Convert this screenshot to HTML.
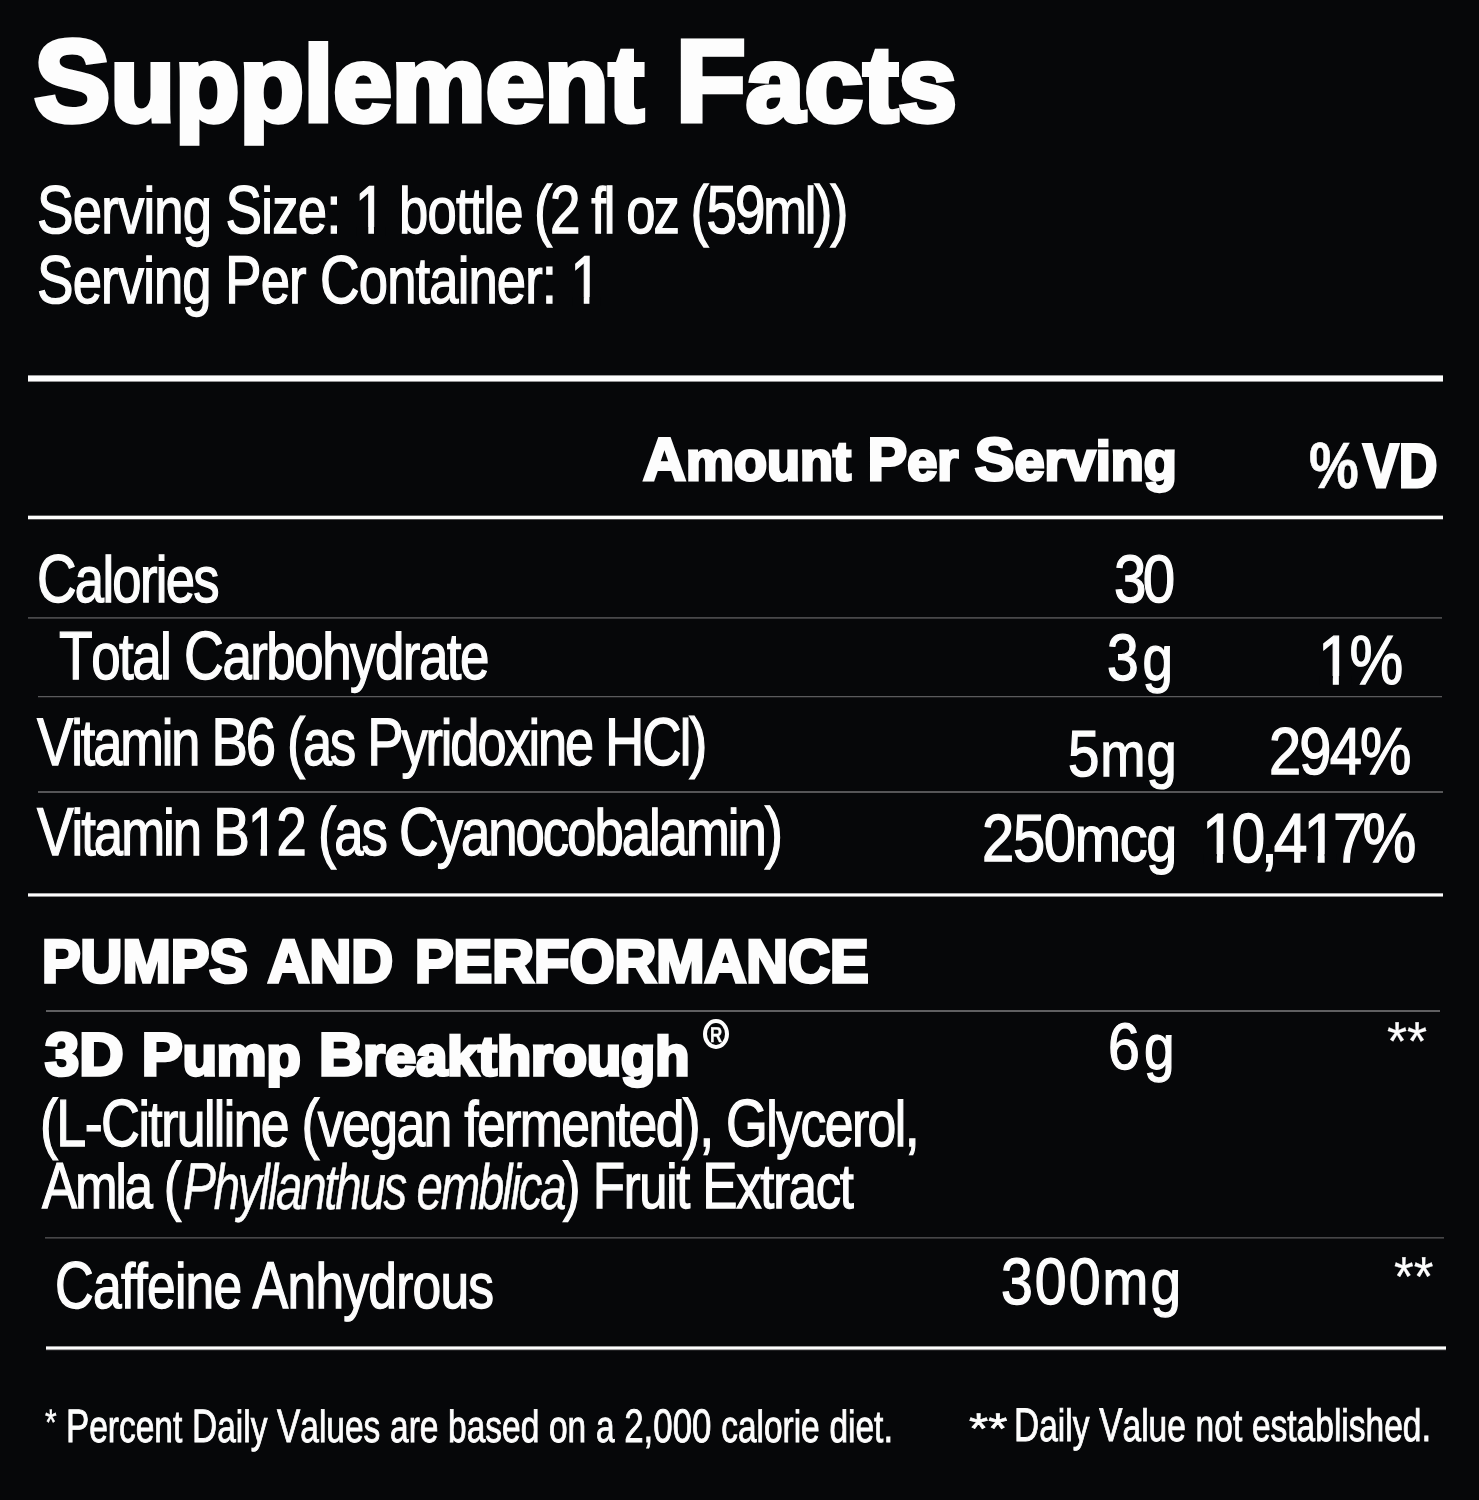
<!DOCTYPE html>
<html><head><meta charset="utf-8"><title>Supplement Facts</title>
<style>
html,body{margin:0;padding:0;background:#060709;}
body{width:1479px;height:1500px;position:relative;overflow:hidden;font-family:"Liberation Sans",sans-serif;color:#fdfdfd;}
.t{position:absolute;white-space:nowrap;line-height:1;text-rendering:geometricPrecision;transform-origin:0 0;font-family:"Liberation Sans",sans-serif;}
.r{position:absolute;}
.la{font-size:.96em}.lb{font-size:.91em}.lc{font-size:.92em}
.o{position:relative;}
.o::before,.o::after{content:"";position:absolute;background:#060709;top:calc(0.8306em - 2.4px);height:calc(0.0747em + 4.2px);}
.o::before{left:calc(0.0762em - 3.2px);width:calc(0.1753em + 2.4px);}
.o::after{left:calc(0.3398em + 0.8px);width:calc(0.1675em + 2.2px);}
</style></head>
<body>
<div id="w" style="position:absolute;left:0;top:0;width:1479px;height:1500px;will-change:transform">
<div class="r" style="left:28px;top:375px;width:1415px;height:1px;background:#9b9b9c"></div>
<div class="r" style="left:28px;top:376px;width:1415px;height:5px;background:#fdfdfd"></div>
<div class="r" style="left:28px;top:381px;width:1415px;height:1px;background:#939394"></div>
<div class="r" style="left:28px;top:515px;width:1415px;height:1px;background:#5d5d5e"></div>
<div class="r" style="left:28px;top:516px;width:1415px;height:3px;background:#fdfdfd"></div>
<div class="r" style="left:28px;top:519px;width:1415px;height:1px;background:#515152"></div>
<div class="r" style="left:28px;top:617px;width:1414px;height:1px;background:#48484a"></div>
<div class="r" style="left:28px;top:618px;width:1414px;height:1px;background:#38383a"></div>
<div class="r" style="left:38px;top:696px;width:1404px;height:1px;background:#5a5a5c"></div>
<div class="r" style="left:38px;top:697px;width:1404px;height:1px;background:#1d1d1f"></div>
<div class="r" style="left:38px;top:791px;width:1404.5px;height:2px;background:#555557"></div>
<div class="r" style="left:28px;top:893px;width:1414.5px;height:1px;background:#a7a7a8"></div>
<div class="r" style="left:28px;top:894px;width:1414.5px;height:2px;background:#fdfdfd"></div>
<div class="r" style="left:28px;top:896px;width:1414.5px;height:1px;background:#8e8e8f"></div>
<div class="r" style="left:46px;top:1010px;width:1394px;height:2px;background:#5f5f61"></div>
<div class="r" style="left:45px;top:1237px;width:1398.5px;height:1px;background:#464648"></div>
<div class="r" style="left:45px;top:1238px;width:1398.5px;height:1px;background:#2e2e30"></div>
<div class="r" style="left:46px;top:1346px;width:1400px;height:1px;background:#9b9b9c"></div>
<div class="r" style="left:46px;top:1347px;width:1400px;height:2px;background:#fdfdfd"></div>
<div class="r" style="left:46px;top:1349px;width:1400px;height:1px;background:#a7a7a8"></div>
<div class="r" style="left:46px;top:1350px;width:1400px;height:1px;background:#202022"></div>
<div class="r" style="left:703.2px;top:1019.2px;width:25.8px;height:30.1px;box-sizing:border-box;border:4.6px solid #fdfdfd;border-radius:50%"></div>
<div class="t" style="left:33.74px;top:23.44px;font-size:116.12px;font-weight:700;transform:scaleX(0.9877);-webkit-text-stroke:5.2px #fdfdfd;paint-order:stroke fill;">S<span class="lc">upplement</span> F<span class="lc">acts</span></div>
<div class="t" style="left:37.1px;top:177.21px;font-size:67.71px;font-weight:400;transform:scaleX(0.81);-webkit-text-stroke:1.3px #fdfdfd;paint-order:stroke fill;letter-spacing:-0.0152em;">S<span class="la">erving</span> S<span class="la">ize</span>: <span class="o">1</span> <span class="la">bottle</span></div>
<div class="t" style="left:533.85px;top:177.21px;font-size:67.71px;font-weight:400;transform:scaleX(0.81);-webkit-text-stroke:1.3px #fdfdfd;paint-order:stroke fill;letter-spacing:-0.0403em;">(2 <span class="la">fl</span> <span class="la">oz</span> (59<span class="la">ml</span>))</div>
<div class="t" style="left:37.1px;top:247.21px;font-size:67.71px;font-weight:400;transform:scaleX(0.81);-webkit-text-stroke:1.3px #fdfdfd;paint-order:stroke fill;letter-spacing:-0.0164em;">S<span class="la">erving</span> P<span class="la">er</span> C<span class="la">ontainer</span>: <span class="o">1</span></div>
<div class="t" style="left:643.34px;top:429.44px;font-size:60.32px;font-weight:700;transform:scaleX(0.9852);-webkit-text-stroke:3.0px #fdfdfd;paint-order:stroke fill;">A<span class="lb">mount</span> P<span class="lb">er</span> S<span class="lb">erving</span></div>
<div class="t" style="left:1362.91px;top:435.94px;font-size:61.69px;font-weight:700;transform:scaleX(0.8691);-webkit-text-stroke:3.0px #fdfdfd;paint-order:stroke fill;">VD</div>
<div class="t" style="left:1308.85px;top:433.19px;font-size:65.29px;font-weight:700;transform:scaleX(0.8561);-webkit-text-stroke:0.6px #fdfdfd;paint-order:stroke fill;">%</div>
<div class="t" style="left:36.83px;top:546.21px;font-size:67.71px;font-weight:400;transform:scaleX(0.81);-webkit-text-stroke:1.3px #fdfdfd;paint-order:stroke fill;letter-spacing:-0.0317em;">C<span class="la">alories</span></div>
<div class="t" style="left:1114.36px;top:545.81px;font-size:67.03px;font-weight:400;transform:scaleX(0.87);-webkit-text-stroke:1.3px #fdfdfd;paint-order:stroke fill;letter-spacing:-0.0624em;">30</div>
<div class="t" style="left:59.35px;top:622.01px;font-size:68.15px;font-weight:400;transform:scaleX(0.81);-webkit-text-stroke:1.3px #fdfdfd;paint-order:stroke fill;letter-spacing:-0.0284em;">T<span class="la">otal</span> C<span class="la">arbohydrate</span></div>
<div class="t" style="left:1106.74px;top:625.21px;font-size:65.57px;font-weight:400;transform:scaleX(0.87);-webkit-text-stroke:1.3px #fdfdfd;paint-order:stroke fill;letter-spacing:0.0658em;">3<span class="la">g</span></div>
<div class="t" style="left:1317.64px;top:625.51px;font-size:69.52px;font-weight:400;transform:scaleX(0.87);-webkit-text-stroke:1.3px #fdfdfd;paint-order:stroke fill;letter-spacing:-0.0333em;"><span class="o">1</span>%</div>
<div class="t" style="left:36.94px;top:708.61px;font-size:67.33px;font-weight:400;transform:scaleX(0.81);-webkit-text-stroke:1.3px #fdfdfd;paint-order:stroke fill;letter-spacing:-0.0385em;">V<span class="la">itamin</span> B6 (<span class="la">as</span> P<span class="la">yridoxine</span> HC<span class="la">l</span>)</div>
<div class="t" style="left:1067.78px;top:721.41px;font-size:65.06px;font-weight:400;transform:scaleX(0.87);-webkit-text-stroke:1.3px #fdfdfd;paint-order:stroke fill;letter-spacing:0.0149em;">5<span class="la">mg</span></div>
<div class="t" style="left:1269.34px;top:718.91px;font-size:66.43px;font-weight:400;transform:scaleX(0.87);-webkit-text-stroke:1.3px #fdfdfd;paint-order:stroke fill;letter-spacing:-0.0312em;">294%</div>
<div class="t" style="left:36.85px;top:798.71px;font-size:67.83px;font-weight:400;transform:scaleX(0.81);-webkit-text-stroke:1.3px #fdfdfd;paint-order:stroke fill;letter-spacing:-0.0374em;">V<span class="la">itamin</span> B<span class="o">1</span>2 (<span class="la">as</span> C<span class="la">yanocobalamin</span>)</div>
<div class="t" style="left:981.74px;top:805.61px;font-size:66.63px;font-weight:400;transform:scaleX(0.87);-webkit-text-stroke:1.3px #fdfdfd;paint-order:stroke fill;letter-spacing:-0.0226em;">250<span class="la">mcg</span></div>
<div class="t" style="left:1202.22px;top:803.71px;font-size:69.65px;font-weight:400;transform:scaleX(0.87);-webkit-text-stroke:1.3px #fdfdfd;paint-order:stroke fill;letter-spacing:-0.0683em;"><span class="o">1</span>0,4<span class="o">1</span>7%</div>
<div class="t" style="left:42.3px;top:930.81px;font-size:60.52px;font-weight:700;transform:scaleX(0.9569);-webkit-text-stroke:3.4px #fdfdfd;paint-order:stroke fill;word-spacing:0.1em;">PUMPS AND PERFORMANCE</div>
<div class="t" style="left:45.44px;top:1024.81px;font-size:60.17px;font-weight:700;transform:scaleX(1.0206);-webkit-text-stroke:3.4px #fdfdfd;paint-order:stroke fill;word-spacing:0.02em;">3D P<span class="lb">ump</span> B<span class="lb">reakthrough</span></div>
<div class="t" style="left:40.43px;top:1091.41px;font-size:66.57px;font-weight:400;transform:scaleX(0.81);-webkit-text-stroke:1.3px #fdfdfd;paint-order:stroke fill;letter-spacing:-0.0296em;">(L-C<span class="la">itrulline</span> (<span class="la">vegan</span> <span class="la">fermented</span>), G<span class="la">lycerol</span>,</div>
<div class="t" style="left:41.98px;top:1153.41px;font-size:65.26px;font-weight:400;transform:scaleX(0.81);-webkit-text-stroke:1.3px #fdfdfd;paint-order:stroke fill;letter-spacing:-0.0374em;">A<span class="la">mla</span> (</div>
<div class="t" style="left:182.74px;top:1153.89px;font-size:66.67px;font-weight:400;transform:scaleX(0.74);font-style:italic;-webkit-text-stroke:0.5px #fdfdfd;paint-order:stroke fill;letter-spacing:-0.0445em;">P<span class="la">hyllanthus</span> <span class="la">emblica</span></div>
<div class="t" style="left:562.62px;top:1153.41px;font-size:65.26px;font-weight:400;transform:scaleX(0.81);-webkit-text-stroke:1.3px #fdfdfd;paint-order:stroke fill;letter-spacing:-0.0246em;">) F<span class="la">ruit</span> E<span class="la">xtract</span></div>
<div class="t" style="left:1107.93px;top:1013.71px;font-size:65.8px;font-weight:400;transform:scaleX(0.87);-webkit-text-stroke:1.3px #fdfdfd;paint-order:stroke fill;letter-spacing:0.0729em;">6<span class="la">g</span></div>
<div class="t" style="left:54.67px;top:1253.01px;font-size:66.34px;font-weight:400;transform:scaleX(0.81);-webkit-text-stroke:1.3px #fdfdfd;paint-order:stroke fill;letter-spacing:-0.0149em;">C<span class="la">affeine</span> A<span class="la">nhydrous</span></div>
<div class="t" style="left:1001.24px;top:1248.81px;font-size:65.8px;font-weight:400;transform:scaleX(0.87);-webkit-text-stroke:1.3px #fdfdfd;paint-order:stroke fill;letter-spacing:0.0355em;">300<span class="la">mg</span></div>
<div class="t" style="left:65.53px;top:1402.64px;font-size:46.94px;font-weight:400;transform:scaleX(0.7429);-webkit-text-stroke:0.9px #fdfdfd;paint-order:stroke fill;">P<span class="la">ercent</span> D<span class="la">aily</span> V<span class="la">alues</span> <span class="la">are</span> <span class="la">based</span> <span class="la">on</span> <span class="la">a</span> 2,000 <span class="la">calorie</span> <span class="la">diet</span>.</div>
<div class="t" style="left:44.72px;top:1403.86px;font-size:37.25px;font-weight:400;transform:scaleX(0.8033);-webkit-text-stroke:0.4px #fdfdfd;paint-order:stroke fill;">*</div>
<div class="t" style="left:1013.93px;top:1401.44px;font-size:47.15px;font-weight:400;transform:scaleX(0.7407);-webkit-text-stroke:0.9px #fdfdfd;paint-order:stroke fill;">D<span class="la">aily</span> V<span class="la">alue</span> <span class="la">not</span> <span class="la">established</span>.</div>
<div class="t" style="left:969.48px;top:1407.99px;font-size:42.6px;font-weight:400;transform:scaleX(1.1546);-webkit-text-stroke:0.7px #fdfdfd;paint-order:stroke fill;">**</div>
<div class="t" style="left:709.75px;top:1025.09px;font-size:21.51px;font-weight:700;transform:scaleX(0.7857);-webkit-text-stroke:0.3px #fdfdfd;paint-order:stroke fill;">R</div>
<div class="t" style="left:1386.55px;top:1013.69px;font-size:54.79px;font-weight:400;transform:scaleX(0.9417);-webkit-text-stroke:0.2px #fdfdfd;paint-order:stroke fill;">**</div>
<div class="t" style="left:1393.61px;top:1248.63px;font-size:56.45px;font-weight:400;transform:scaleX(0.8976);-webkit-text-stroke:0.2px #fdfdfd;paint-order:stroke fill;">**</div>
</div>
</body></html>
